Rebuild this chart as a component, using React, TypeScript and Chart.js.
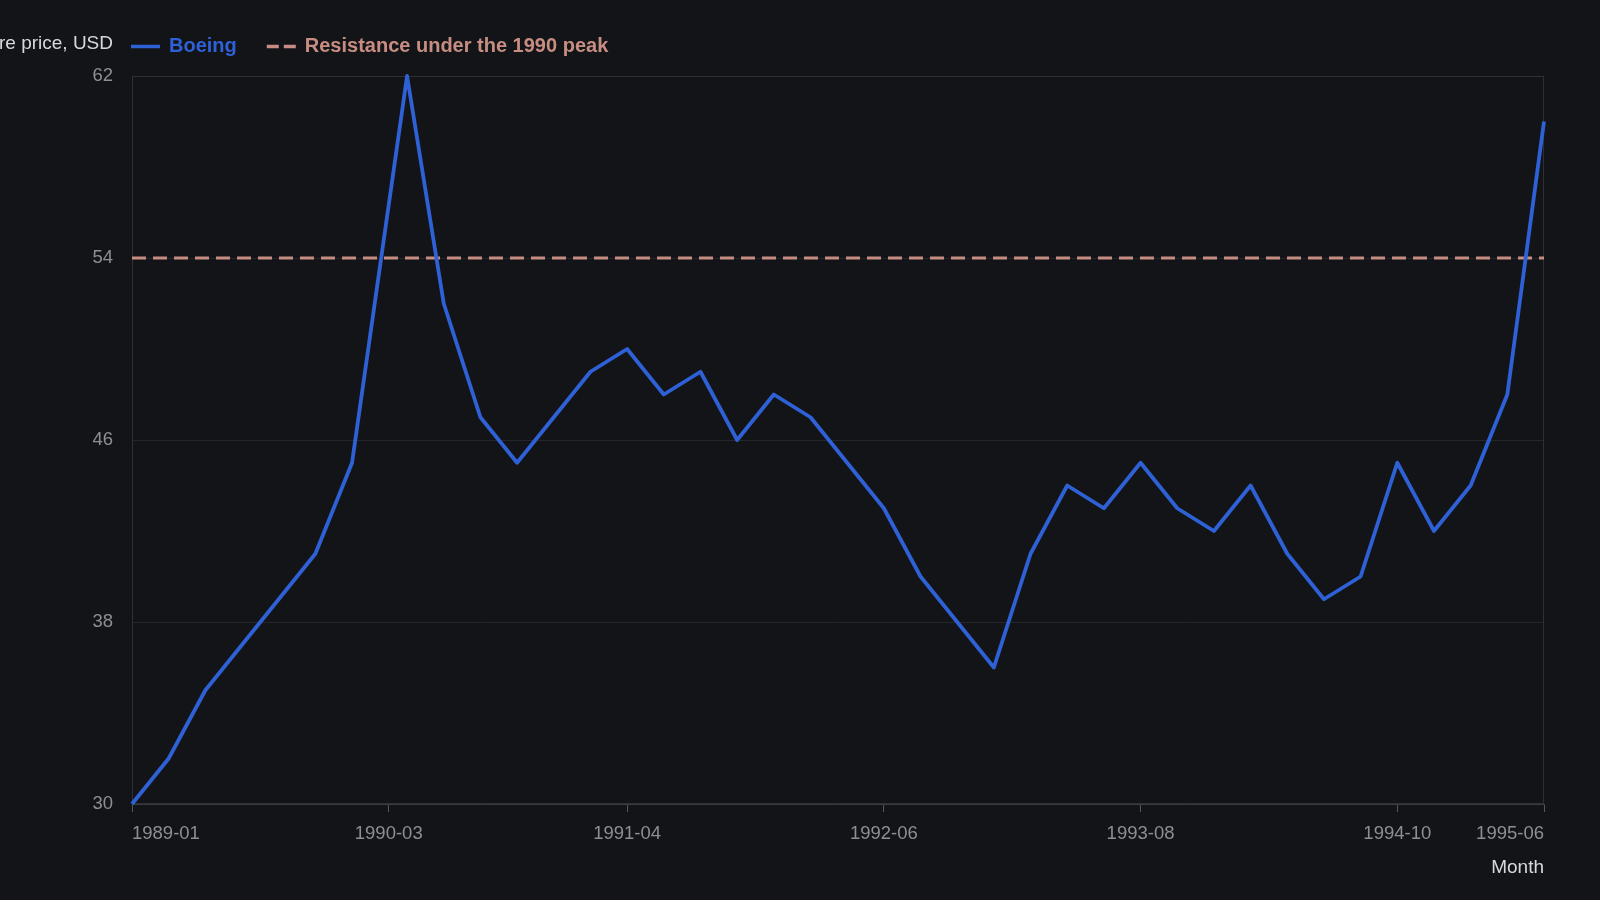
import React, { useEffect, useRef } from "react";
import { Chart, registerables } from "chart.js";

Chart.register(...registerables);

// ---- data ----
const boeingMonths = [
  "1989-01", "1989-03", "1989-05", "1989-07", "1989-09", "1989-11",
  "1990-01", "1990-04", "1990-06", "1990-08", "1990-10", "1990-12",
  "1991-02", "1991-04", "1991-06", "1991-08", "1991-10", "1991-12",
  "1992-02", "1992-04", "1992-06", "1992-08", "1992-10", "1992-12",
  "1993-02", "1993-04", "1993-06", "1993-08", "1993-10", "1993-12",
  "1994-02", "1994-04", "1994-06", "1994-08", "1994-10", "1994-12",
  "1995-02", "1995-04", "1995-06",
];
const boeingPrices = [
  30, 32, 35, 37, 39, 41,
  45, 62, 52, 47, 45, 47,
  49, 50, 48, 49, 46, 48,
  47, 45, 43, 40, 38, 36,
  41, 44, 43, 45, 43, 42,
  44, 41, 39, 40, 45, 42,
  44, 48, 60,
];
const resistanceMonths = ["1989-01", "1995-06"];
const resistanceLevel = 54;
const xTickLabels = ["1989-01", "1990-03", "1991-04", "1992-06", "1993-08", "1994-10", "1995-06"];
const yTickValues = [30, 38, 46, 54, 62];

const seriesNames = ["Boeing", "Resistance under the 1990 peak"];
const yAxisName = "Share price, USD";
const xAxisName = "Month";

// ---- helpers ----
const BASE_YEAR = 1989;
const monthIndex = (s: string) => {
  const [y, m] = s.split("-").map(Number);
  return (y - BASE_YEAR) * 12 + (m - 1);
};
const monthLabel = (i: number) => {
  const y = BASE_YEAR + Math.floor(i / 12);
  const m = (i % 12) + 1;
  return `${y}-${m < 10 ? "0" + m : m}`;
};

const FONT = "'Liberation Sans', Arial, Helvetica, sans-serif";
const BG = "#131418";
const BOEING = "#2e61d6";
const RESIST = "#c78d82";

const decorPlugin = {
  id: "decor",
  beforeDraw(chart: any) {
    const { ctx, width, height } = chart;
    ctx.save();
    ctx.fillStyle = BG;
    ctx.fillRect(0, 0, width, height);
    ctx.restore();
  },
  beforeDatasetsDraw(chart: any) {
    const { ctx, chartArea: a } = chart;
    ctx.save();
    ctx.strokeStyle = "#2f3036";
    ctx.lineWidth = 1;
    ctx.strokeRect(a.left + 0.5, a.top + 0.5, a.right - a.left - 1, a.bottom - a.top - 1);
    ctx.restore();
  },
  afterDraw(chart: any) {
    const { ctx, chartArea: a } = chart;
    ctx.save();
    ctx.textBaseline = "middle";
    ctx.font = `19px ${FONT}`;
    ctx.fillStyle = "#d8d9dc";
    ctx.textAlign = "right";
    ctx.fillText(yAxisName, a.left - 19, 44);

    let x = a.left - 1;
    const y = 46.5;
    chart.data.datasets.forEach((ds: any) => {
      ctx.strokeStyle = ds.borderColor;
      ctx.lineWidth = 3.5;
      ctx.setLineDash(ds.borderDash && ds.borderDash.length ? [12, 5] : []);
      ctx.beginPath();
      ctx.moveTo(x, y);
      ctx.lineTo(x + 29, y);
      ctx.stroke();
      ctx.setLineDash([]);
      ctx.font = `bold 20px ${FONT}`;
      ctx.fillStyle = ds.borderColor;
      ctx.textAlign = "left";
      ctx.fillText(ds.label, x + 38, y);
      x += 38 + ctx.measureText(ds.label).width + 30;
    });
    ctx.restore();
  },
};

export default function App() {
  const ref = useRef<HTMLCanvasElement | null>(null);

  useEffect(() => {
    document.body.style.margin = "0";
    document.body.style.background = BG;
    const canvas = ref.current;
    if (!canvas) return;
    const chart = new Chart(canvas, {
      type: "line",
      data: {
        datasets: [
          {
            label: seriesNames[0],
            data: boeingMonths.map((m, i) => ({ x: monthIndex(m), y: boeingPrices[i] })),
            borderColor: BOEING,
            backgroundColor: BOEING,
            borderWidth: 3.8,
            borderJoinStyle: "round",
            pointRadius: 0,
            tension: 0,
            clip: false,
          },
          {
            label: seriesNames[1],
            data: resistanceMonths.map((m) => ({ x: monthIndex(m), y: resistanceLevel })),
            borderColor: RESIST,
            backgroundColor: RESIST,
            borderWidth: 3,
            borderDash: [14, 7],
            pointRadius: 0,
            tension: 0,
          },
        ],
      },
      options: {
        responsive: false,
        animation: false,
        devicePixelRatio: 1,
        layout: { padding: { left: 0, right: 56, top: 76, bottom: 0 } },
        plugins: {
          legend: { display: false },
          tooltip: { enabled: false },
        },
        scales: {
          x: {
            type: "linear",
            min: monthIndex(xTickLabels[0]),
            max: monthIndex(xTickLabels[xTickLabels.length - 1]),
            afterFit: (s: any) => {
              s.height = 96;
            },
            afterBuildTicks: (s: any) => {
              s.ticks = xTickLabels.map((l) => ({ value: monthIndex(l) }));
            },
            ticks: {
              align: "inner",
              maxRotation: 0,
              autoSkip: false,
              color: "#8d8f95",
              font: { size: 18.5, family: FONT },
              padding: 11,
              callback: (v: any) => monthLabel(Number(v)),
            },
            grid: {
              drawOnChartArea: false,
              drawTicks: true,
              tickLength: 8,
              color: "#55575d",
            },
            border: { color: "#3a3b41" },
            title: {
              display: true,
              text: xAxisName,
              align: "end",
              color: "#d8d9dc",
              font: { size: 19, family: FONT },
              padding: { top: 0, bottom: 21 },
            },
          },
          y: {
            min: yTickValues[0],
            max: yTickValues[yTickValues.length - 1],
            afterFit: (s: any) => {
              s.width = 132;
            },
            afterBuildTicks: (s: any) => {
              s.ticks = yTickValues.map((v) => ({ value: v }));
            },
            ticks: {
              color: "#8d8f95",
              font: { size: 18.5, family: FONT },
              padding: 19,
            },
            grid: {
              color: "#25262b",
              drawTicks: false,
              tickLength: 0,
            },
            border: { color: "#3a3b41" },
          },
        },
      },
      plugins: [decorPlugin],
    } as any);
    return () => chart.destroy();
  }, []);

  return (
    <div style={{ position: "fixed", left: 0, top: 0, width: 1600, height: 900, background: BG }}>
      <canvas ref={ref} width={1600} height={900} style={{ display: "block", width: 1600, height: 900 }} />
    </div>
  );
}
